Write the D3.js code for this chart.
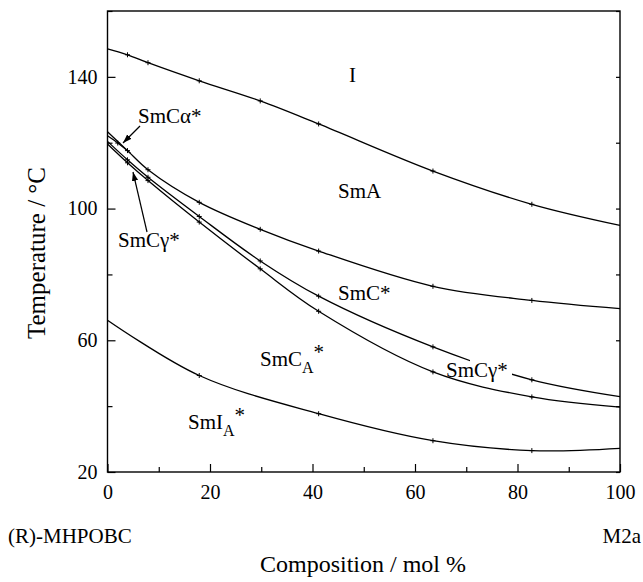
<!DOCTYPE html>
<html><head><meta charset="utf-8">
<script src="https://cdn.jsdelivr.net/npm/d3@7"></script>
<style>
html,body{margin:0;padding:0;background:#fff;}
</style></head>
<body><svg id="chart" width="643" height="582"></svg>
<script>
// ---- data ----
const compX   = [0, 3.9, 7.9, 17.9, 29.8, 41.2, 63.5, 82.8, 100];
const tIso    = [148.5, 146.7, 144.3, 138.8, 132.7, 125.7, 111.4, 101.3, 94.9];   // I / SmA
const tSmA    = [123.3, 117.6, 111.8, 101.9, 93.7, 87.1, 76.4, 72.1, 69.6];      // SmA / SmC*
const tSmC    = [120.4, 114.8, 109.5, 97.6, 84.1, 73.4, 58.0, 48.0, 42.9];       // SmC* / SmCγ*
const tSmCg   = [119.6, 113.9, 108.5, 95.9, 81.7, 68.8, 50.4, 42.8, 39.7];       // SmCγ* / SmCA*
const alphaX  = [0, 2.0, 4.5];
const tAlpha  = [122.1, 119.9, 116.8];                                          // SmCα* boundary
const smIX    = [0, 17.9, 41.2, 63.5, 82.8, 100];
const tSmI    = [66.1, 49.3, 37.7, 29.5, 26.5, 27.2];                           // SmCA* / SmIA*
const xMajor  = [0, 20, 40, 60, 80, 100];
const xMinor  = [10, 30, 50, 70, 90];
const yMajor  = [20, 60, 100, 140];
const yMinor  = [40, 80, 120, 160];

const FONT = "'Liberation Serif', 'Times New Roman', Tinos, 'DejaVu Serif', serif";
const svg = d3.select("#chart").style("font-family", FONT);
const L = 107.5, R = 620, T = 11, B = 472;
const x = d3.scaleLinear().domain([0, 100]).range([L, R]);
const y = d3.scaleLinear().domain([20, 160]).range([B, T]);

const g = svg.append("g");

// frame
g.append("rect").attr("x", L).attr("y", T).attr("width", R - L).attr("height", B - T)
  .attr("fill", "none").attr("stroke", "#000").attr("stroke-width", 1.4);

// axes (inward ticks)
function styleAxis(sel){
  sel.attr("font-family", null).style("font-family", FONT);
  sel.select(".domain").remove();
  sel.selectAll("line").attr("stroke","#000").attr("stroke-width",1.2);
  sel.selectAll("text").style("font-family", FONT).attr("font-size", 20).attr("fill", "#000");
}
const xa = g.append("g").attr("transform", `translate(0,${B})`)
  .call(d3.axisBottom(x).tickValues(xMajor).tickSizeInner(-8).tickSizeOuter(0).tickPadding(13).tickFormat(d3.format("d")));
styleAxis(xa);
const xm = g.append("g").attr("transform", `translate(0,${B})`)
  .call(d3.axisBottom(x).tickValues(xMinor).tickSizeInner(-5).tickSizeOuter(0).tickFormat(""));
styleAxis(xm);
const ya = g.append("g").attr("transform", `translate(${L},0)`)
  .call(d3.axisLeft(y).tickValues(yMajor).tickSizeInner(-8).tickSizeOuter(0).tickPadding(10).tickFormat(d3.format("d")));
styleAxis(ya);
const ym = g.append("g").attr("transform", `translate(${L},0)`)
  .call(d3.axisLeft(y).tickValues(yMinor).tickSizeInner(-5).tickSizeOuter(0).tickFormat(""));
styleAxis(ym);
const yr = g.append("g").attr("transform", `translate(${R},0)`)
  .call(d3.axisRight(y).tickValues(yMajor.concat(yMinor)).tickSizeInner(-4).tickSizeOuter(0).tickFormat(""));
styleAxis(yr);

// curves
const line = d3.line().x(d => x(d[0])).y(d => y(d[1])).curve(d3.curveCatmullRom.alpha(0.5));
function curve(xs, ts, clip){
  const pts = xs.map((v, i) => [v, ts[i]]);
  const p = g.append("path").datum(pts).attr("d", line)
    .attr("fill", "none").attr("stroke", "#000").attr("stroke-width", 1.3);
  if (clip) p.attr("clip-path", clip);
  pts.slice(1, -1).forEach(d => {
    if (clip && x(d[0]) > 468 && x(d[0]) < 514) return;
    g.append("path").attr("d", `M${x(d[0])-2.5},${y(d[1])}h5M${x(d[0])},${y(d[1])-2.5}v5`)
      .attr("stroke", "#000").attr("stroke-width", 1);
  });
}
const defs = svg.append("defs");
const cp = defs.append("clipPath").attr("id", "gap");
cp.append("rect").attr("x", L).attr("y", T).attr("width", 470 - L).attr("height", B - T);
cp.append("rect").attr("x", 512).attr("y", T).attr("width", R - 512).attr("height", B - T);

curve(compX, tIso);
curve(compX, tSmA);
curve(compX, tSmC, "url(#gap)");
curve(compX, tSmCg);
curve(alphaX, tAlpha);
curve(smIX, tSmI);

// phase labels
const lf = 21;
function label(tx, ty, txt){ return g.append("text").attr("x", tx).attr("y", ty).attr("font-size", lf).style("font-family", FONT).text(txt); }
label(349, 82, "I");
label(338, 198, "SmA");
label(338, 300, "SmC*");
label(138, 123, "SmCα*");
label(118, 247, "SmCγ*");
label(446, 377, "SmCγ*");
const ca = label(260, 366, "");
ca.append("tspan").text("SmC");
ca.append("tspan").attr("font-size", 16).attr("dy", 7).text("A");
ca.append("tspan").attr("dy", -14).text("*");
const ia = label(188, 429, "");
ia.append("tspan").text("SmI");
ia.append("tspan").attr("font-size", 16).attr("dy", 7).text("A");
ia.append("tspan").attr("dy", -14).text("*");

// arrows
defs.append("marker").attr("id", "ah").attr("viewBox", "0 0 10 10").attr("refX", 10).attr("refY", 5)
  .attr("markerWidth", 9).attr("markerHeight", 9).attr("orient", "auto").attr("markerUnits","userSpaceOnUse")
  .append("path").attr("d", "M0,1.5L10,5L0,8.5z").attr("fill", "#000");
g.append("line").attr("x1", 140).attr("y1", 126).attr("x2", 123).attr("y2", 143)
  .attr("stroke", "#000").attr("stroke-width", 1.2).attr("marker-end", "url(#ah)");
g.append("line").attr("x1", 147).attr("y1", 232).attr("x2", 133).attr("y2", 172)
  .attr("stroke", "#000").attr("stroke-width", 1.2).attr("marker-end", "url(#ah)");

// axis titles and component names
function t2(sel, s){ return sel.style("font-family", FONT).attr("font-size", s); }
t2(svg.append("text").attr("transform", `translate(45,253) rotate(-90)`).attr("text-anchor", "middle"), 25)
  .text("Temperature / °C");
t2(svg.append("text").attr("x", 363).attr("y", 572).attr("text-anchor", "middle"), 24)
  .text("Composition / mol %");
t2(svg.append("text").attr("x", 8).attr("y", 543), 21).text("(R)-MHPOBC");
t2(svg.append("text").attr("x", 641).attr("y", 543).attr("text-anchor", "end"), 21).text("M2a");
</script></body></html>
